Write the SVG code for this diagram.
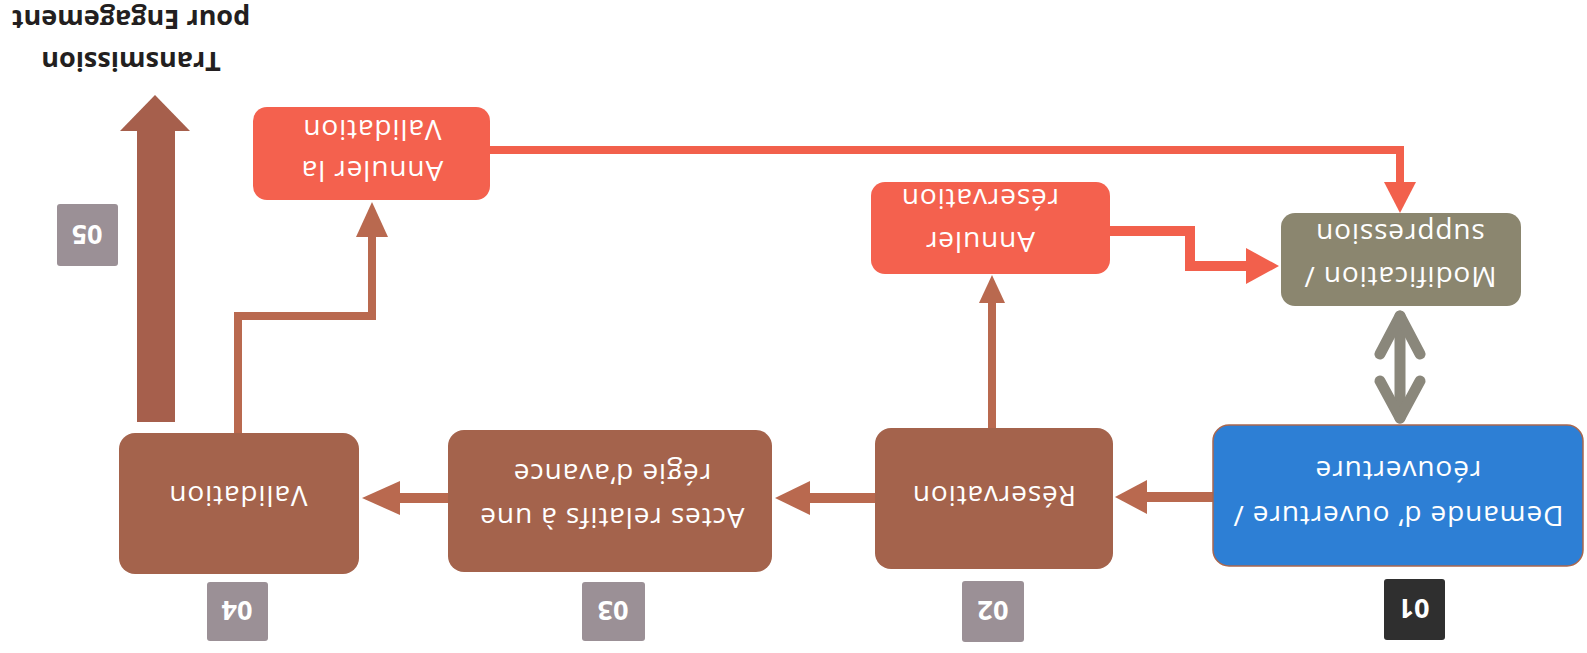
<svg xmlns="http://www.w3.org/2000/svg" width="1587" height="653" viewBox="0 0 1587 653">
<style>
.t{font-family:"Open Sans","Liberation Sans",sans-serif;font-size:28px;letter-spacing:0.9px;fill:#fff;text-anchor:middle;dominant-baseline:central}
.num{font-family:"Open Sans","Liberation Sans",sans-serif;font-size:27px;font-weight:bold;fill:#fff;text-anchor:middle;dominant-baseline:central}
.title{font-family:"Open Sans","Liberation Sans",sans-serif;font-size:27px;font-weight:bold;fill:#231f20;text-anchor:middle;dominant-baseline:central}
.brown{fill:#a4634c}
.red{fill:#f4614e}
.tag{fill:#9b9096}
.bline{stroke:#b9694f;fill:none}
.rline{stroke:#f2604c;fill:none}
</style>
<rect width="1587" height="653" fill="#fff"/>
<g id="connectors">
  <line class="bline" x1="1213" y1="497" x2="1145" y2="497" stroke-width="10"/>
  <polygon fill="#b9694f" points="1147,480 1147,514 1115,497"/>
  <line class="bline" x1="875" y1="498" x2="808" y2="498" stroke-width="10"/>
  <polygon fill="#b9694f" points="810,481 810,515 775,498"/>
  <line class="bline" x1="448" y1="498" x2="398" y2="498" stroke-width="10"/>
  <polygon fill="#b9694f" points="400,481 400,515 362,498"/>
  <line class="bline" x1="992" y1="428" x2="992" y2="300" stroke-width="8"/>
  <polygon fill="#b9694f" points="979,303 1005,303 992,275"/>
  <polyline class="bline" points="238,433 238,316 372,316 372,235" stroke-width="8"/>
  <polygon fill="#b9694f" points="356,237 388,237 372,202"/>
  <rect x="137" y="128" width="38" height="294" fill="#a65f4c"/>
  <polygon fill="#a65f4c" points="120,131 190,131 155,95"/>
  <polyline class="rline" points="1110,231 1190,231 1190,266 1248,266" stroke-width="10"/>
  <polygon fill="#f2604c" points="1246,248 1246,284 1279,266"/>
  <polyline class="rline" points="490,150 1400,150 1400,184" stroke-width="8"/>
  <polygon fill="#f2604c" points="1384,182 1416,182 1400,213"/>
  <g stroke="#8a877b" stroke-width="11" stroke-linecap="round" stroke-linejoin="round" fill="none">
    <line x1="1400" y1="316" x2="1400" y2="418"/>
    <polyline points="1380,354 1400,316 1420,354"/>
    <polyline points="1380,381 1400,418 1420,381"/>
  </g>
</g>
<g id="node-01">
  <rect x="1213" y="425" width="370" height="141" rx="16" fill="#2d7fd5" stroke="#a9674f" stroke-width="1.5"/>
  <text class="t" x="1398" y="517" transform="rotate(180 1398 517)">Demande d’ ouverture /</text>
  <text class="t" x="1398" y="472" transform="rotate(180 1398 472)">réouverture</text>
</g>
<g id="tag-01">
  <rect x="1384" y="579" width="61" height="61" rx="3" fill="#2f2f2f"/>
  <text class="num" x="1414" y="609" transform="rotate(180 1414 609)">01</text>
</g>
<g id="node-02">
  <rect x="875" y="428" width="238" height="141" rx="16" class="brown"/>
  <text class="t" x="994" y="497" transform="rotate(180 994 497)">Réservation</text>
</g>
<g id="tag-02">
  <rect x="962" y="581" width="62" height="61" rx="3" class="tag"/>
  <text class="num" x="993" y="611" transform="rotate(180 993 611)">02</text>
</g>
<g id="node-03">
  <rect x="448" y="430" width="324" height="142" rx="16" class="brown"/>
  <text class="t" x="612" y="519" transform="rotate(180 612 519)">Actes relatifs à une</text>
  <text class="t" x="612" y="475" transform="rotate(180 612 475)">régie d’avance</text>
</g>
<g id="tag-03">
  <rect x="582" y="582" width="63" height="59" rx="3" class="tag"/>
  <text class="num" x="613" y="611" transform="rotate(180 613 611)">03</text>
</g>
<g id="node-04">
  <rect x="119" y="433" width="240" height="141" rx="16" class="brown"/>
  <text class="t" x="238" y="497" transform="rotate(180 238 497)">Validation</text>
</g>
<g id="tag-04">
  <rect x="207" y="582" width="61" height="59" rx="3" class="tag"/>
  <text class="num" x="237" y="611" transform="rotate(180 237 611)">04</text>
</g>
<g id="tag-05">
  <rect x="57" y="204" width="61" height="62" rx="3" class="tag"/>
  <text class="num" x="87" y="235" transform="rotate(180 87 235)">05</text>
</g>
<g id="node-annuler-reservation">
  <rect x="871" y="182" width="239" height="92" rx="14" class="red"/>
  <text class="t" x="980" y="243" transform="rotate(180 980 243)">Annuler</text>
  <text class="t" x="980" y="200" transform="rotate(180 980 200)">réservation</text>
</g>
<g id="node-annuler-validation">
  <rect x="253" y="107" width="237" height="93" rx="14" class="red"/>
  <text class="t" x="372" y="172" transform="rotate(180 372 172)">Annuler la</text>
  <text class="t" x="372" y="131" transform="rotate(180 372 131)">Validation</text>
</g>
<g id="node-modification">
  <rect x="1281" y="213" width="240" height="93" rx="14" fill="#8b866f"/>
  <text class="t" x="1400" y="278" transform="rotate(180 1400 278)">Modification /</text>
  <text class="t" x="1400" y="235" transform="rotate(180 1400 235)">suppression</text>
</g>
<g id="label-transmission">
  <text class="title" x="131" y="62" transform="rotate(180 131 62)">Transmission</text>
  <text class="title" x="131" y="20" transform="rotate(180 131 20)">pour Engagement</text>
</g>
</svg>
